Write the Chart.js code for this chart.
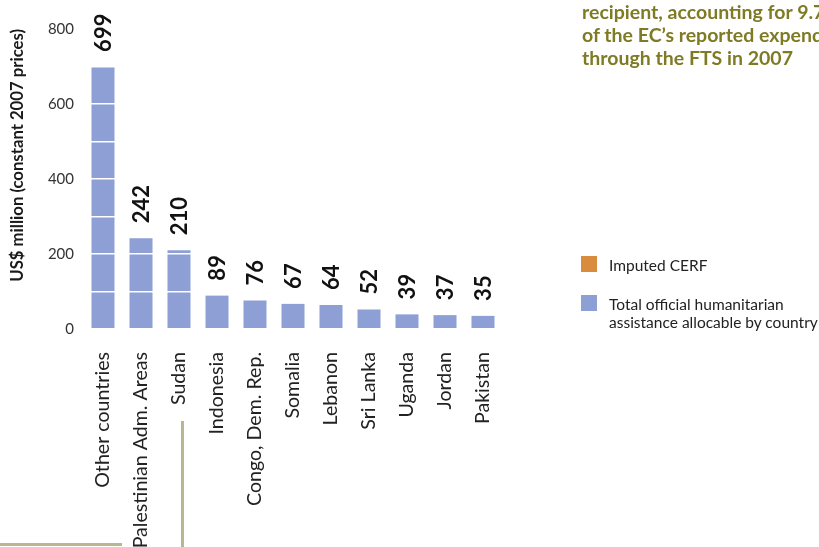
<!DOCTYPE html>
<html>
<head>
<meta charset="utf-8">
<script src="https://cdn.jsdelivr.net/npm/chart.js@4/dist/chart.umd.min.js"></script>
<style>
  html, body { margin: 0; padding: 0; background: #fff; }
  body { width: 819px; height: 547px; position: relative; overflow: hidden; }
  #c { position: absolute; left: 0; top: 0; }
  #note { position: absolute; left: 582px; top: 0px; white-space: nowrap;
          font: bold 19.5px Lato, sans-serif; line-height: 23px; color: #7f7b24; }
  #legend { position: absolute; left: 581px; top: 256px; font: 15.5px Lato, sans-serif; color: #222; }
  .item { position: relative; padding-left: 28px; line-height: 18px; margin-bottom: 21px; white-space: nowrap; }
  .sw { position: absolute; left: 0; top: 0px; width: 16px; height: 16px; }
  .rule { position: absolute; background: #bab690; }
</style>
</head>
<body>
<canvas id="c" width="819" height="547"></canvas>
<div id="note">recipient, accounting for 9.7%<br>of the EC’s reported expenditure<br>through the FTS in 2007</div>
<div id="legend"></div>
<div class="rule" style="left:0px; top:543px; width:122px; height:2.5px;"></div>
<div class="rule" style="left:181px; top:421px; width:2.5px; height:126px;"></div>
<script>
const categories = ["Other countries", "Palestinian Adm. Areas", "Sudan", "Indonesia", "Congo, Dem. Rep.", "Somalia", "Lebanon", "Sri Lanka", "Uganda", "Jordan", "Pakistan"];
const totalOfficial = [699, 242, 210, 89, 76, 67, 64, 52, 39, 37, 35];
const imputedCERF = [0, 0, 0, 0, 0, 0, 0, 0, 0, 0, 0];
const seriesNames = ["Total official humanitarian\nassistance allocable by country", "Imputed CERF"];
const yTickStep = 100;
const yLabelStep = 200;
const yMax = 800;

const colors = ["#8d9fd5", "#d98c3e"];

const valueLabels = {
  id: 'valueLabels',
  afterDraw(chart) {
    const ctx = chart.ctx;
    const top = chart.getDatasetMeta(chart.data.datasets.length - 1);
    ctx.save();
    ctx.font = 'bold 22px Lato, sans-serif';
    ctx.fillStyle = '#111';
    ctx.textAlign = 'left';
    ctx.textBaseline = 'alphabetic';
    top.data.forEach((bar, i) => {
      const sum = chart.data.datasets.reduce((s, d) => s + d.data[i], 0);
      ctx.save();
      ctx.translate(bar.x + 8, bar.y - 15);
      ctx.rotate(-Math.PI / 2);
      ctx.fillText(String(sum), 0, 0);
      ctx.restore();
    });
    ctx.restore();
  }
};

const chart = new Chart(document.getElementById('c'), {
  type: 'bar',
  data: {
    labels: categories,
    datasets: [
      { label: seriesNames[0], data: totalOfficial, backgroundColor: colors[0], borderWidth: 0,
        barPercentage: 0.605, categoryPercentage: 1 },
      { label: seriesNames[1], data: imputedCERF, backgroundColor: colors[1], borderWidth: 0,
        barPercentage: 0.605, categoryPercentage: 1 }
    ]
  },
  options: {
    responsive: false,
    animation: false,
    layout: { padding: { left: 0, right: 317, top: 29, bottom: 0 } },
    plugins: { legend: { display: false }, tooltip: { enabled: false } },
    scales: {
      x: {
        stacked: true,
        grid: { display: false, drawTicks: false },
        border: { display: false },
        ticks: { autoSkip: false, minRotation: 90, maxRotation: 90, padding: 23,
                 color: '#222', font: { family: 'Lato', size: 19.6 } },
        afterFit(s) { s.height = 218; }
      },
      y: {
        stacked: true,
        min: 0, max: yMax,
        grid: { color: '#ffffff', lineWidth: 1.5, z: 1, drawTicks: false },
        border: { display: false },
        ticks: { stepSize: yTickStep, padding: 10, color: '#333',
                 font: { family: 'Lato', size: 15 },
                 callback: v => (v % yLabelStep === 0 ? String(v) : '') },
        title: { display: true, text: 'US$ million (constant 2007 prices)', align: 'end',
                 color: '#1a1a1a', font: { family: 'Lato', size: 16.7, weight: 'bold' },
                 padding: { top: 8, bottom: 0 } },
        afterFit(s) { s.width = 84; }
      }
    }
  },
  plugins: [valueLabels]
});

// HTML legend built from the chart's datasets (Imputed CERF listed first, as in the original)
const legend = document.getElementById('legend');
[1, 0].forEach(i => {
  const ds = chart.data.datasets[i];
  const item = document.createElement('div');
  item.className = 'item';
  const sw = document.createElement('span');
  sw.className = 'sw';
  sw.style.background = ds.backgroundColor;
  item.appendChild(sw);
  ds.label.split('\n').forEach((line, k) => {
    if (k) item.appendChild(document.createElement('br'));
    item.appendChild(document.createTextNode(line));
  });
  legend.appendChild(item);
});
</script>
</body>
</html>
